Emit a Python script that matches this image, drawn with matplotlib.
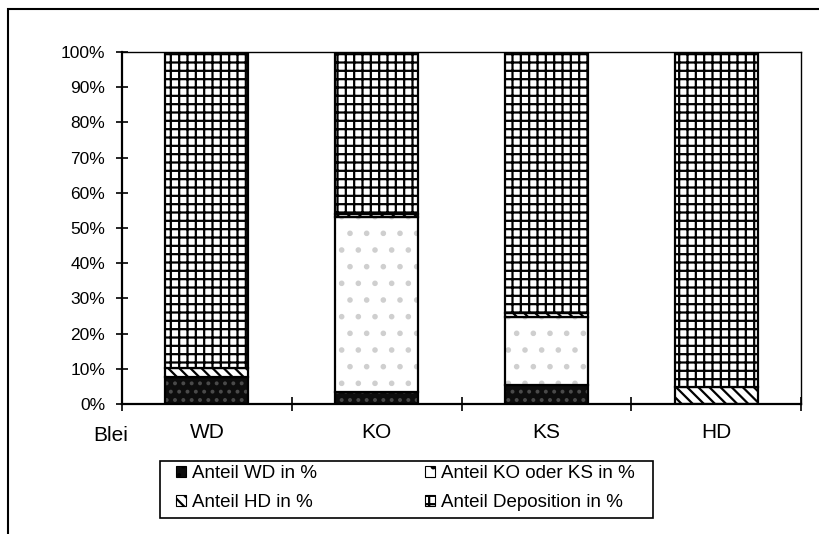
import matplotlib
matplotlib.use("Agg")
import matplotlib.pyplot as plt
from matplotlib.patches import Patch, Rectangle
import numpy as np

plt.rcParams["font.family"] = ["Liberation Sans", "DejaVu Sans"]
plt.rcParams["hatch.linewidth"] = 1.6

categories = ["WD", "KO", "KS", "HD"]
anteil_wd = [7.7, 3.4, 5.4, 0.0]
anteil_ko_ks = [0.0, 49.6, 19.4, 0.0]
anteil_hd = [2.6, 1.0, 1.2, 4.8]
anteil_dep = [89.7, 46.0, 74.0, 95.2]
y_ticks = [0, 10, 20, 30, 40, 50, 60, 70, 80, 90, 100]

BS = chr(92)  # backslash for the diagonal hatch
series = [
    ("Anteil WD in %", anteil_wd, "#0d0d0d", "..", "#4a4a4a"),
    ("Anteil KO oder KS in %", anteil_ko_ks, "white", ".", "#cfcfcf"),
    ("Anteil HD in %", anteil_hd, "white", BS * 3, "black"),
    ("Anteil Deposition in %", anteil_dep, "white", "++", "black"),
]

fig = plt.figure(figsize=(8.19, 5.34), dpi=100)
ax = fig.add_axes([0.149, 0.2434, 0.829, 0.6592])

x = np.arange(len(categories)) + 0.5
width = 0.49
bottom = np.zeros(len(categories))
for name, vals, face, hatch, hcol in series:
    vals = np.asarray(vals, dtype=float)
    # hatched fill first, then a plain black outline on top
    ax.bar(x, vals, width, bottom=bottom, color=face, edgecolor=hcol,
           hatch=hatch, linewidth=0)
    ax.bar(x, vals, width, bottom=bottom, facecolor="none",
           edgecolor="black", linewidth=1.6)
    bottom += vals

ax.set_xlim(0, len(categories))
ax.set_ylim(0, 100)
ax.set_yticks(y_ticks)
ax.set_yticklabels([f"{t}%" for t in y_ticks])
ax.tick_params(axis="y", direction="inout", length=8, width=1.2,
               labelsize=12.5, pad=8)

ax.set_xticks(np.arange(len(categories) + 1))
ax.set_xticklabels([])
ax.set_xticks(x, minor=True)
ax.set_xticklabels(categories, minor=True)
ax.tick_params(axis="x", which="major", direction="inout", length=10, width=1.2)
ax.tick_params(axis="x", which="minor", length=0, labelsize=15, pad=14)

ax.text(-0.016, -0.088, "Blei", transform=ax.transAxes, ha="center",
        va="center", fontsize=15)

for side in ["left", "bottom"]:
    ax.spines[side].set_linewidth(1.6)
for side in ["top", "right"]:
    ax.spines[side].set_linewidth(1.0)

handles = [Patch(facecolor=f, edgecolor="black", hatch=h, linewidth=0.8)
           for _, _, f, h, _ in series]
order = [0, 2, 1, 3]
leg = fig.legend([handles[i] for i in order],
                 [series[i][0] for i in order],
                 ncol=2, loc="upper left",
                 bbox_to_anchor=(176 / 819, 1 - 465 / 534),
                 fontsize=13.5, frameon=False,
                 handlelength=0.55, handleheight=0.55, handletextpad=0.3,
                 columnspacing=5.75, labelspacing=0.66,
                 borderpad=0, borderaxespad=0)

# legend box
fig.patches.append(Rectangle((160 / 819, 1 - 518 / 534), 493 / 819, 57 / 534,
                             transform=fig.transFigure, fill=False,
                             edgecolor="black", linewidth=1.2))

# outer frame around the chart
fig.patches.append(Rectangle((8 / 819, -0.1), 1.2, 1 - 9 / 534 + 0.1,
                             transform=fig.transFigure, fill=False,
                             edgecolor="black", linewidth=1.5))

fig.savefig("out.png", dpi=100)
